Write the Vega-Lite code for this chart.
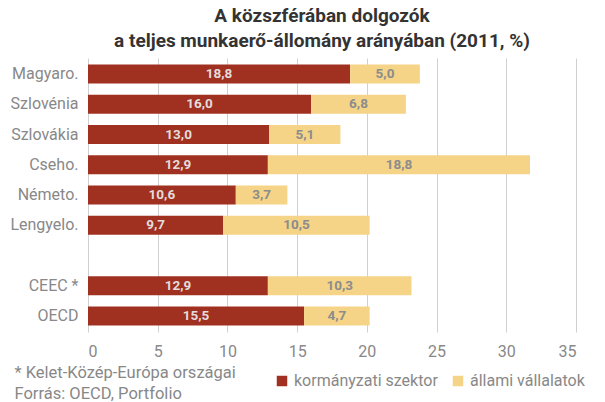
{
  "$schema": "https://vega.github.io/schema/vega-lite/v6.json",
  "width": 488,
  "height": 274,
  "autosize": {"type": "none"},
  "padding": {"left": 88, "top": 58, "right": 29, "bottom": 70},
  "background": "white",
  "config": {
    "font": "Roboto",
    "view": {"stroke": null},
    "locale": {"number": {"decimal": ",", "thousands": " ", "grouping": [3], "currency": ["", ""]}}
  },
  "title": {
    "text": ["A közszférában dolgozók", "a teljes munkaerő-állomány arányában (2011, %)"],
    "fontSize": 19,
    "fontWeight": "bold",
    "color": "#333333",
    "anchor": "middle",
    "dx": -10,
    "offset": 7,
    "lineHeight": 25
  },
  "data": {
    "values": [
      {"country": "Magyaro.", "sector": "kormányzati szektor", "value": 18.8},
      {"country": "Magyaro.", "sector": "állami vállalatok", "value": 5.0},
      {"country": "Szlovénia", "sector": "kormányzati szektor", "value": 16.0},
      {"country": "Szlovénia", "sector": "állami vállalatok", "value": 6.8},
      {"country": "Szlovákia", "sector": "kormányzati szektor", "value": 13.0},
      {"country": "Szlovákia", "sector": "állami vállalatok", "value": 5.1},
      {"country": "Cseho.", "sector": "kormányzati szektor", "value": 12.9},
      {"country": "Cseho.", "sector": "állami vállalatok", "value": 18.8},
      {"country": "Németo.", "sector": "kormányzati szektor", "value": 10.6},
      {"country": "Németo.", "sector": "állami vállalatok", "value": 3.7},
      {"country": "Lengyelo.", "sector": "kormányzati szektor", "value": 9.7},
      {"country": "Lengyelo.", "sector": "állami vállalatok", "value": 10.5},
      {"country": "CEEC *", "sector": "kormányzati szektor", "value": 12.9},
      {"country": "CEEC *", "sector": "állami vállalatok", "value": 10.3},
      {"country": "OECD", "sector": "kormányzati szektor", "value": 15.5},
      {"country": "OECD", "sector": "állami vállalatok", "value": 4.7}
    ]
  },
  "transform": [
    {"stack": "value", "groupby": ["country"], "sort": [{"field": "sector", "order": "ascending"}], "as": ["v0", "v1"]},
    {"calculate": "(datum.v0 + datum.v1) / 2", "as": "mid"}
  ],
  "encoding": {
    "y": {
      "field": "country",
      "type": "nominal",
      "scale": {
        "domain": ["Magyaro.", "Szlovénia", "Szlovákia", "Cseho.", "Németo.", "Lengyelo.", " ", "CEEC *", "OECD"],
        "paddingInner": 0.37,
        "paddingOuter": 0.215
      },
      "axis": {
        "title": null,
        "ticks": false,
        "domain": false,
        "labelFontSize": 16,
        "labelColor": "#888888",
        "labelPadding": 10
      }
    }
  },
  "layer": [
    {
      "mark": {"type": "bar"},
      "encoding": {
        "x": {
          "field": "v0",
          "type": "quantitative",
          "scale": {"domain": [0, 35], "nice": false},
          "axis": {
            "values": [0, 5, 10, 15, 20, 25, 30, 35],
            "format": "d",
            "grid": true,
            "gridColor": "#d0d0d0",
            "gridWidth": 1,
            "ticks": false,
            "domain": false,
            "labelFontSize": 16,
            "labelColor": "#888888",
            "labelPadding": 11,
            "title": ["* Kelet-Közép-Európa országai", "Forrás: OECD, Portfolio"],
            "titleAnchor": "start",
            "titleAlign": "left",
            "titleBaseline": "top",
            "titleX": -74,
            "titleY": 32,
            "titleFontSize": 16.5,
            "titleFontWeight": "normal",
            "titleColor": "#888888",
            "titleLineHeight": 21
          }
        },
        "x2": {"field": "v1"},
        "color": {
          "field": "sector",
          "type": "nominal",
          "scale": {"domain": ["kormányzati szektor", "állami vállalatok"], "range": ["#A03020", "#F5D387"]},
          "legend": {
            "title": null,
            "orient": "none",
            "legendX": 186,
            "legendY": 315,
            "direction": "horizontal",
            "columns": 2,
            "columnPadding": 12,
            "symbolType": "square",
            "symbolSize": 110,
            "symbolStrokeWidth": 0,
            "labelFontSize": 16,
            "labelColor": "#888888",
            "labelOffset": 4
          }
        }
      }
    },
    {
      "mark": {"type": "text", "fontSize": 13.5, "fontWeight": "bold", "baseline": "middle", "align": "center"},
      "encoding": {
        "x": {"field": "mid", "type": "quantitative"},
        "text": {"field": "value", "type": "quantitative", "format": ".1f"},
        "color": {
          "condition": {"test": "datum.sector === 'kormányzati szektor'", "value": "#E3DCDC"},
          "value": "#8C8C8C"
        }
      }
    }
  ]
}
